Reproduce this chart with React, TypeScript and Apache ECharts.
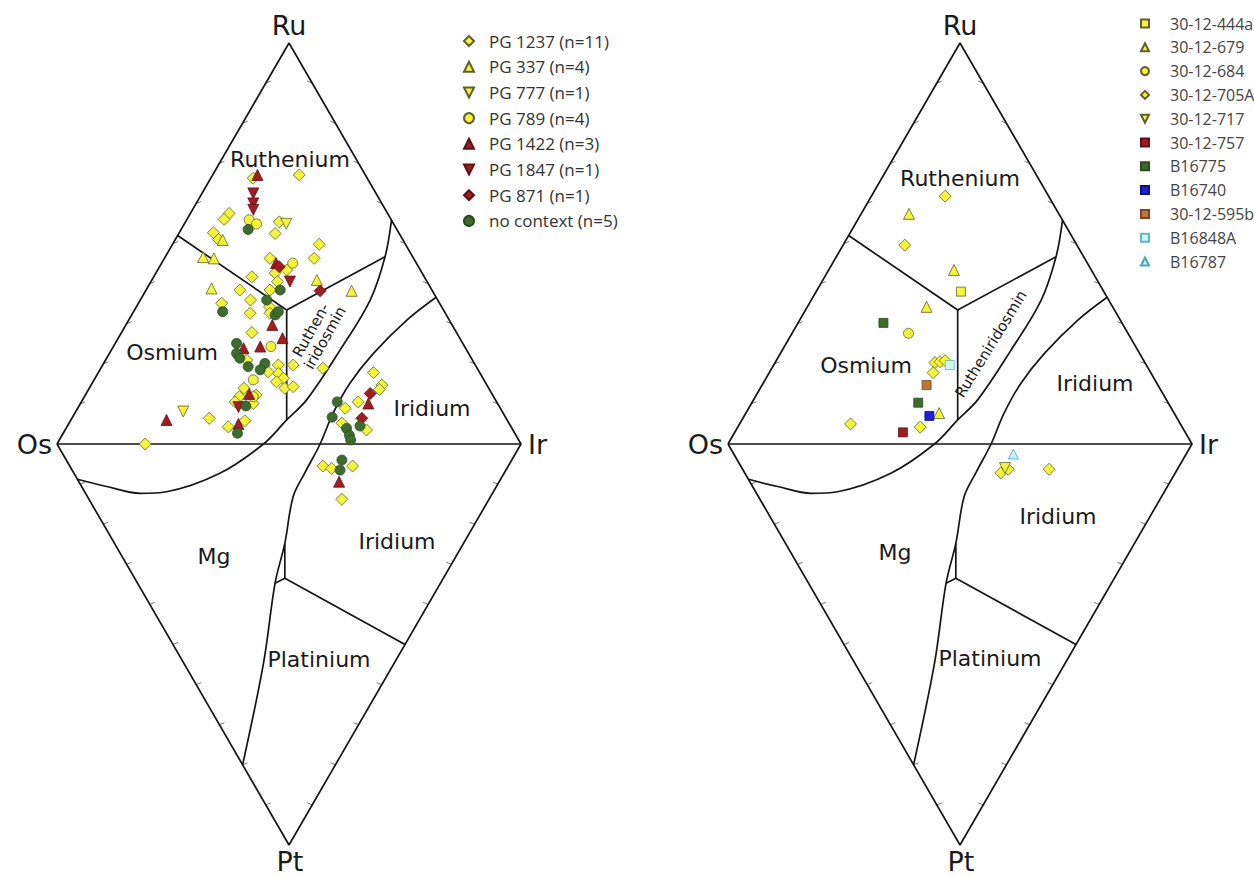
import React, { useEffect, useRef } from "react";
import * as echarts from "echarts";

// Diagram coordinates: x = position along the Os→Ir side (0–100),
// y = Ru % above the Os–Ir line, −Pt % below it (diamond: Os, Ru, Ir, Pt).

// ---------- left diagram series ----------
const PG1237 = [
  [42.3, 66.3], [52.2, 67.1], [37.1, 57.5], [36.0, 56.0], [33.7, 52.7], [34.8, 51.0],
  [47.9, 55.4], [47.0, 52.5], [56.5, 49.8], [55.4, 46.3], [45.9, 46.3], [49.5, 43.4],
  [47.0, 42.6], [47.5, 40.5], [45.9, 38.4], [42.0, 41.7], [39.4, 38.4], [35.5, 35.1],
  [41.7, 35.9], [41.6, 32.6], [45.8, 34.2], [45.9, 32.6], [42.0, 27.8], [47.7, 19.7],
  [50.9, 19.7], [47.7, 17.6], [48.8, 16.4], [47.3, 15.5], [49.1, 13.9], [50.9, 14.3],
  [57.3, 18.9], [40.3, 13.9], [39.3, 11.8], [42.3, 10.1], [38.4, 10.5], [32.8, 6.4],
  [36.9, 4.3], [40.5, 5.8], [19.0, 0], [40.9, 20.9], [45.5, 18.0], [42.9, 12.2],
  [68.2, 17.8], [70.0, 14.7], [69.5, 13.6], [64.9, 10.5], [62.1, 8.9], [66.7, 3.5],
  [61.4, 5.2], [57.3, -5.5], [59.2, -6.1], [63.7, -5.5], [61.4, -13.8],
];
const PG337 = [[35.7, 50.9], [31.5, 46.6], [33.8, 46.3], [56.0, 40.9], [63.5, 38.2], [33.3, 38.8]];
const PG777 = [[49.4, 54.9], [27.2, 8.1]];
const PG789 = [[41.4, 55.9], [43.0, 54.9], [50.8, 45.1], [46.1, 24.3], [42.3, 16.0], [42.3, 11.8]];
const PG1422 = [
  [43.2, 67.1], [47.2, 45.1], [46.4, 29.7], [48.6, 26.4], [40.2, 23.9], [43.8, 24.3],
  [41.4, 12.5], [23.6, 6.0], [39.1, 5.0], [67.1, 10.1], [60.8, -9.4],
];
const PG1847 = [[42.3, 62.5], [42.3, 60.0], [42.3, 58.4], [50.2, 40.5], [39.1, 9.2]];
const PG871 = [[47.9, 44.2], [56.7, 38.2], [67.5, 12.6], [65.7, 6.4]];
const NO_CONTEXT = [
  [41.2, 53.5], [48.1, 38.4], [35.7, 33.0], [45.2, 35.9], [47.0, 32.2], [47.7, 33.0],
  [38.7, 25.1], [38.7, 22.6], [41.2, 19.3], [44.8, 20.1], [43.8, 18.5], [40.7, 9.5],
  [38.9, 2.7], [39.4, 21.4], [60.4, 10.5], [59.3, 6.7], [65.3, 4.5], [62.4, 3.9],
  [63.0, 2.2], [63.3, 1.0], [61.4, -4.0], [61.0, -6.5],
];

// ---------- right diagram series ----------
const S444A = [[50.2, 38.0]];
const S679 = [[39.0, 57.4], [48.7, 43.4], [42.8, 34.2], [45.5, 7.7]];
const S684 = [[38.9, 27.6]];
const S705A = [
  [46.8, 61.8], [38.1, 49.6], [44.6, 20.3], [45.7, 20.5], [46.8, 20.8], [44.2, 17.8],
  [26.4, 5.0], [41.4, 4.2], [58.8, -7.2], [60.4, -6.3], [69.2, -6.3],
];
const S717 = [[59.7, -6.0]];
const S757 = [[37.7, 2.9]];
const B16775 = [[33.5, 30.2], [41.0, 10.3]];
const B16740 = [[43.4, 7.0]];
const S595B = [[42.8, 14.7]];
const B16848A = [[47.8, 19.7]];
const B16787 = [[61.5, -2.5]];

// ---------- field boundaries (same template in both diagrams) ----------
const OUTLINE = [[0, 0], [50, 100], [100, 0], [50, -100], [0, 0]];
const BASELINE = [[0, 0], [100, 0]];
const OS_RU_LINE = [[26, 52], [49.5, 33.4]];
const JUNCTION_RIGHT = [[49.5, 33.4], [70.7, 46.7]];
const VERTICAL = [[49.5, 33.4], [49.5, 6]];
const OS_CURVE = [
  [72.1, 55.9], [70.7, 46.7], [67.5, 35.9], [61, 23.4], [53.8, 11], [49.5, 6], [44.5, 0],
  [35.1, -7.3], [23.6, -11.9], [17.9, -12.3], [10.7, -10.6], [4.4, -8.8],
];
const IR_CURVE = [
  [81.7, 36.6], [75.4, 30.9], [68.2, 22.6], [63.1, 15.1], [59.5, 7.7], [56.7, 0],
  [53.5, -7], [50.9, -13.1], [49.1, -24.8], [47, -34.7], [44.5, -54.7], [40, -80],
];
const SLIVER = [[49.1, -24.8], [49.1, -33.5], [47, -34.7]];
const IR_PT_LINE = [[49.1, -33.5], [75, -50]];
const TICK_FRACTIONS = [10, 20, 30, 40, 50, 60, 70, 80, 90];

const LEFT_NAMES = [
  "PG 1237 (n=11)", "PG 337 (n=4)", "PG 777 (n=1)", "PG 789 (n=4)",
  "PG 1422 (n=3)", "PG 1847 (n=1)", "PG 871 (n=1)", "no context (n=5)",
];
const RIGHT_NAMES = [
  "30-12-444a", "30-12-679", "30-12-684", "30-12-705A", "30-12-717", "30-12-757",
  "B16775", "B16740", "30-12-595b", "B16848A", "B16787",
];

const YEL = "#f4f43c";
const YEL_B = "#5f5f2a";
const RED = "#a01d23";
const RED_B = "#5e1114";
const GRN = "#3e6b2e";
const GRN_B = "#2a4a1f";
const DOWN = "path://M0,0L10,0L5,10Z";

function scatter(name: string, data: number[][], idx: number, symbol: string, size: number, color: string, border: string) {
  return {
    type: "scatter", name, data, xAxisIndex: idx, yAxisIndex: idx, symbol, symbolSize: size,
    symbolKeepAspect: true,
    itemStyle: { color, borderColor: border, borderWidth: 0.8, opacity: 1 }, z: 5, silent: true,
  };
}

function line(data: number[][], idx: number, smooth: number | boolean = false) {
  return {
    type: "line", data, xAxisIndex: idx, yAxisIndex: idx, symbol: "none", smooth,
    lineStyle: { color: "#151515", width: 1.7 }, silent: true, z: 2,
  };
}

function ticks(idx: number) {
  return {
    type: "custom", xAxisIndex: idx, yAxisIndex: idx, silent: true, z: 2,
    data: TICK_FRACTIONS.map((t) => [t, 0]),
    renderItem: (_p: any, api: any) => {
      const f = api.value(0) / 100;
      const edges: [number[], number[], number][] = [
        [[0, 0], [50, 100], 1], [[100, 0], [50, 100], -1],
        [[0, 0], [50, -100], 1], [[100, 0], [50, -100], -1],
      ];
      return {
        type: "group",
        children: edges.map(([a, b, dir]) => {
          const p = api.coord([a[0] + (b[0] - a[0]) * f, a[1] + (b[1] - a[1]) * f]);
          return {
            type: "line",
            shape: { x1: p[0], y1: p[1], x2: p[0] + dir * 5, y2: p[1] - 2 },
            style: { stroke: "#777", lineWidth: 1 },
          };
        }),
      };
    },
  };
}

function boundaries(idx: number) {
  return [
    line(OUTLINE, idx), line(BASELINE, idx), line(OS_RU_LINE, idx), line(JUNCTION_RIGHT, idx),
    line(VERTICAL, idx), line(OS_CURVE, idx, 0.35), line(IR_CURVE, idx, 0.35),
    line(SLIVER, idx), line(IR_PT_LINE, idx), ticks(idx),
  ];
}

const REGION_FONT = '"DejaVu Sans", sans-serif';

function txt(text: string, x: number, y: number, size: number, extra: any = {}) {
  return {
    type: "text", x, y, rotation: extra.rotation || 0, z: 10,
    style: {
      text, fontSize: size, fontFamily: REGION_FONT, fill: "#1a1a1a",
      align: extra.align || "center", verticalAlign: "middle", lineHeight: extra.lineHeight,
    },
  };
}

const option = {
  animation: false,
  backgroundColor: "#ffffff",
  grid: [
    { left: 57, top: 43, width: 464, height: 802 },
    { left: 728, top: 43, width: 464, height: 802 },
  ],
  xAxis: [0, 1].map((i) => ({ type: "value", gridIndex: i, min: 0, max: 100, show: false })),
  yAxis: [0, 1].map((i) => ({ type: "value", gridIndex: i, min: -100, max: 100, show: false })),
  legend: [
    {
      data: LEFT_NAMES, orient: "vertical", left: 458, top: 27, itemWidth: 10, itemHeight: 10,
      itemGap: 7.7, selectedMode: false,
      textStyle: {
        fontFamily: '"Open Sans", sans-serif', fontSize: 17, color: "#333", lineHeight: 18,
        padding: [0, 0, 0, 10],
      },
    },
    {
      data: RIGHT_NAMES, orient: "vertical", left: 1135, top: 10, itemWidth: 8, itemHeight: 8,
      itemGap: 6.8, selectedMode: false,
      textStyle: {
        fontFamily: '"Open Sans", sans-serif', fontSize: 16, color: "#444", lineHeight: 17,
        padding: [0, 0, 0, 16],
      },
    },
  ],
  series: [
    ...boundaries(0),
    ...boundaries(1),
    scatter(LEFT_NAMES[0], PG1237, 0, "diamond", 12, YEL, YEL_B),
    scatter(LEFT_NAMES[1], PG337, 0, "triangle", 11, YEL, YEL_B),
    scatter(LEFT_NAMES[2], PG777, 0, DOWN, 11, YEL, YEL_B),
    scatter(LEFT_NAMES[3], PG789, 0, "circle", 10, YEL, YEL_B),
    scatter(LEFT_NAMES[4], PG1422, 0, "triangle", 11, RED, RED_B),
    scatter(LEFT_NAMES[5], PG1847, 0, DOWN, 11, RED, RED_B),
    scatter(LEFT_NAMES[6], PG871, 0, "diamond", 12, RED, RED_B),
    scatter(LEFT_NAMES[7], NO_CONTEXT, 0, "circle", 10, GRN, GRN_B),
    scatter(RIGHT_NAMES[0], S444A, 1, "rect", 9, YEL, YEL_B),
    scatter(RIGHT_NAMES[1], S679, 1, "triangle", 11, YEL, YEL_B),
    scatter(RIGHT_NAMES[2], S684, 1, "circle", 10, YEL, YEL_B),
    scatter(RIGHT_NAMES[3], S705A, 1, "diamond", 12, YEL, YEL_B),
    scatter(RIGHT_NAMES[4], S717, 1, DOWN, 11, YEL, YEL_B),
    scatter(RIGHT_NAMES[5], S757, 1, "rect", 9, "#9e1b1f", "#5e1114"),
    scatter(RIGHT_NAMES[6], B16775, 1, "rect", 9, "#3d6b2c", "#2a4a1f"),
    scatter(RIGHT_NAMES[7], B16740, 1, "rect", 9, "#1f1fd6", "#12127a"),
    scatter(RIGHT_NAMES[8], S595B, 1, "rect", 9, "#c0733a", "#7a4520"),
    scatter(RIGHT_NAMES[9], B16848A, 1, "rect", 9, "#cdf5f5", "#5fb8c0"),
    scatter(RIGHT_NAMES[10], B16787, 1, "triangle", 10, "#c4f1f7", "#4aa8b8"),
  ],
  graphic: [
    // left diagram
    txt("Ru", 289, 25, 27),
    txt("Os", 52, 444, 27, { align: "right" }),
    txt("Ir", 528, 444, 27, { align: "left" }),
    txt("Pt", 290, 861, 27),
    txt("Ruthenium", 290, 159, 22),
    txt("Osmium", 172, 352, 22),
    txt("Ruthen-\niridosmin", 318, 334, 15, { rotation: 1.06, lineHeight: 16 }),
    txt("Iridium", 432, 408, 22),
    txt("Iridium", 397, 541, 22),
    txt("Mg", 214, 556, 22),
    txt("Platinium", 319, 659, 22),
    // right diagram
    txt("Ru", 960, 25, 27),
    txt("Os", 723, 444, 27, { align: "right" }),
    txt("Ir", 1199, 444, 27, { align: "left" }),
    txt("Pt", 961, 861, 27),
    txt("Ruthenium", 960, 178, 22),
    txt("Osmium", 866, 365, 22),
    txt("Rutheniridosmin", 991, 344, 15, { rotation: 1.02 }),
    txt("Iridium", 1095, 383, 22),
    txt("Iridium", 1058, 516, 22),
    txt("Mg", 895, 552, 22),
    txt("Platinium", 990, 658, 22),
  ],
};

export default function App() {
  const ref = useRef<HTMLDivElement>(null);
  useEffect(() => {
    const chart = echarts.init(ref.current!, undefined, { renderer: "svg" });
    chart.setOption(option as any);
    return () => chart.dispose();
  }, []);
  return (
    <div
      ref={ref}
      style={{ position: "fixed", left: 0, top: 0, width: 1254, height: 877, background: "#fff" }}
    />
  );
}
